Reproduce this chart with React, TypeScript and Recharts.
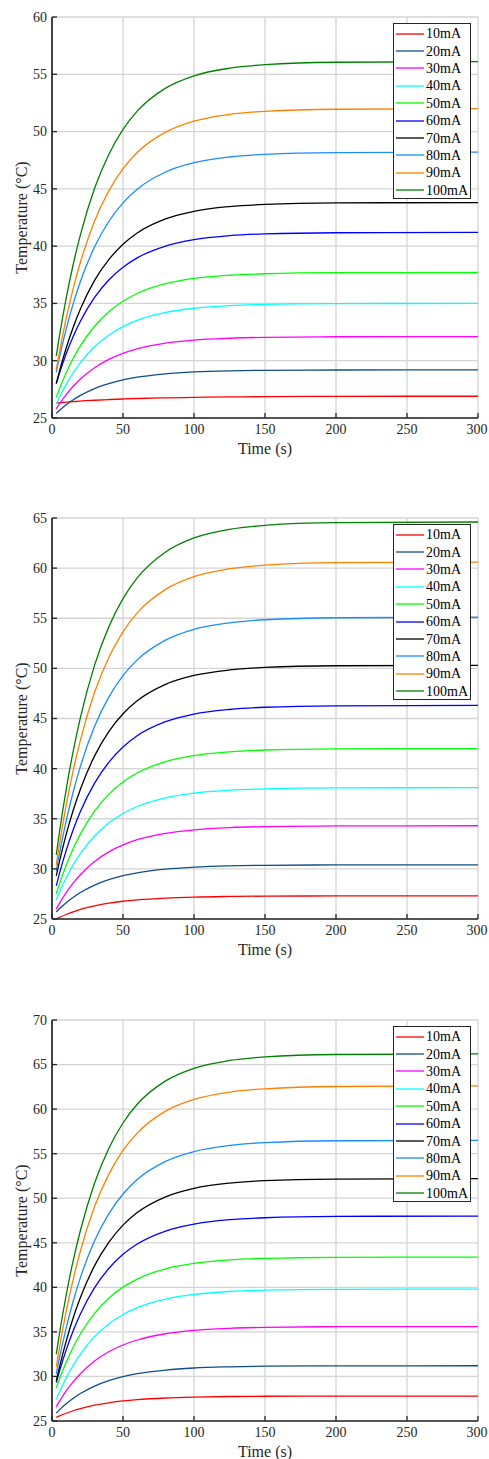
import React from "react";
import { LineChart, Line, XAxis, YAxis, CartesianGrid } from "recharts";

const times = [3, 5, 10, 15, 20, 30, 40, 50, 60, 80, 100, 125, 150, 200, 300];
const currents = ["10mA", "20mA", "30mA", "40mA", "50mA", "60mA", "70mA", "80mA", "90mA", "100mA"];
const colors = ["#FF0000", "#124C88", "#FF00FF", "#00FFFF", "#00FF00", "#0000FF", "#000000", "#1A8CFF", "#FF8000", "#008000"];
const xTicks = [0, 50, 100, 150, 200, 250, 300];

// panel 1 (top)
const p1_10 = [26.3, 26.32, 26.38, 26.43, 26.48, 26.55, 26.61, 26.66, 26.7, 26.76, 26.8, 26.84, 26.86, 26.89, 26.9];
const p1_20 = [25.4, 25.63, 26.15, 26.59, 26.97, 27.57, 28.0, 28.33, 28.56, 28.86, 29.02, 29.12, 29.16, 29.19, 29.2];
const p1_30 = [25.8, 26.18, 27.04, 27.77, 28.4, 29.39, 30.12, 30.65, 31.04, 31.53, 31.8, 31.96, 32.04, 32.09, 32.1];
const p1_40 = [26.2, 26.74, 27.93, 28.95, 29.83, 31.22, 32.23, 32.98, 33.52, 34.21, 34.58, 34.81, 34.91, 34.98, 35.0];
const p1_50 = [26.8, 27.46, 28.95, 30.21, 31.29, 33.01, 34.27, 35.19, 35.87, 36.72, 37.18, 37.46, 37.59, 37.68, 37.7];
const p1_60 = [28.0, 28.81, 30.6, 32.13, 33.44, 35.52, 37.04, 38.16, 38.98, 40.01, 40.57, 40.91, 41.07, 41.17, 41.2];
const p1_70 = [28.0, 28.96, 31.11, 32.95, 34.51, 37.01, 38.82, 40.17, 41.15, 42.38, 43.04, 43.45, 43.64, 43.77, 43.8];
const p1_80 = [29.0, 30.17, 32.78, 35.01, 36.91, 39.94, 42.15, 43.78, 44.97, 46.47, 47.28, 47.78, 48.01, 48.16, 48.2];
const p1_90 = [29.2, 30.59, 33.69, 36.34, 38.59, 42.2, 44.82, 46.76, 48.17, 49.95, 50.91, 51.5, 51.77, 51.95, 52.0];
const p1_100 = [30.4, 31.97, 35.46, 38.44, 40.99, 45.05, 48.0, 50.19, 51.78, 53.79, 54.87, 55.53, 55.84, 56.05, 56.1];

// panel 2 (middle)
const p2_10 = [25.0, 25.14, 25.45, 25.72, 25.95, 26.31, 26.58, 26.77, 26.91, 27.09, 27.19, 27.25, 27.28, 27.3, 27.3];
const p2_20 = [25.7, 25.99, 26.63, 27.17, 27.64, 28.38, 28.92, 29.32, 29.61, 29.98, 30.17, 30.3, 30.35, 30.39, 30.4];
const p2_30 = [26.0, 26.51, 27.64, 28.6, 29.42, 30.73, 31.69, 32.39, 32.91, 33.55, 33.9, 34.12, 34.22, 34.28, 34.3];
const p2_40 = [26.9, 27.58, 29.11, 30.41, 31.51, 33.28, 34.57, 35.52, 36.22, 37.09, 37.56, 37.85, 37.99, 38.08, 38.1];
const p2_50 = [27.5, 28.38, 30.36, 32.04, 33.47, 35.77, 37.43, 38.67, 39.56, 40.7, 41.3, 41.68, 41.86, 41.97, 42.0];
const p2_60 = [28.3, 29.4, 31.85, 33.93, 35.72, 38.56, 40.63, 42.16, 43.28, 44.68, 45.44, 45.9, 46.12, 46.26, 46.3];
const p2_70 = [29.3, 30.58, 33.44, 35.87, 37.95, 41.27, 43.69, 45.47, 46.77, 48.41, 49.29, 49.84, 50.09, 50.26, 50.3];
const p2_80 = [29.8, 31.34, 34.78, 37.72, 40.22, 44.22, 47.13, 49.28, 50.85, 52.82, 53.89, 54.54, 54.85, 55.05, 55.1];
const p2_90 = [30.4, 32.24, 36.35, 39.85, 42.84, 47.61, 51.09, 53.65, 55.53, 57.88, 59.15, 59.94, 60.3, 60.54, 60.6];
const p2_100 = [31.4, 33.43, 37.94, 41.79, 45.08, 50.32, 54.14, 56.96, 59.02, 61.61, 63.01, 63.87, 64.27, 64.53, 64.6];

// panel 3 (bottom)
const p3_10 = [25.4, 25.55, 25.87, 26.15, 26.39, 26.77, 27.04, 27.25, 27.4, 27.58, 27.68, 27.75, 27.78, 27.8, 27.8];
const p3_20 = [25.9, 26.22, 26.94, 27.56, 28.08, 28.92, 29.53, 29.98, 30.31, 30.72, 30.95, 31.08, 31.15, 31.19, 31.2];
const p3_30 = [26.6, 27.15, 28.37, 29.42, 30.31, 31.73, 32.77, 33.53, 34.09, 34.79, 35.17, 35.4, 35.51, 35.58, 35.6];
const p3_40 = [27.4, 28.16, 29.84, 31.28, 32.51, 34.47, 35.89, 36.95, 37.72, 38.68, 39.2, 39.53, 39.68, 39.78, 39.8];
const p3_50 = [28.7, 29.6, 31.6, 33.3, 34.76, 37.08, 38.77, 40.02, 40.93, 42.08, 42.69, 43.08, 43.25, 43.37, 43.4];
const p3_60 = [29.3, 30.44, 32.98, 35.15, 37.0, 39.96, 42.11, 43.7, 44.86, 46.32, 47.1, 47.59, 47.81, 47.96, 48.0];
const p3_70 = [29.5, 30.88, 33.97, 36.61, 38.85, 42.44, 45.05, 46.98, 48.39, 50.16, 51.11, 51.7, 51.97, 52.15, 52.2];
const p3_80 = [30.3, 31.9, 35.46, 38.5, 41.09, 45.23, 48.25, 50.47, 52.1, 54.14, 55.24, 55.92, 56.24, 56.45, 56.5];
const p3_90 = [31.1, 33.02, 37.31, 40.96, 44.08, 49.06, 52.68, 55.36, 57.31, 59.77, 61.08, 61.91, 62.28, 62.54, 62.6];
const p3_100 = [32.5, 34.56, 39.14, 43.05, 46.38, 51.71, 55.59, 58.44, 60.54, 63.17, 64.58, 65.46, 65.86, 66.13, 66.2];

const panels = [
  { top: 0, yMax: 60, series: [p1_10, p1_20, p1_30, p1_40, p1_50, p1_60, p1_70, p1_80, p1_90, p1_100] },
  { top: 501, yMax: 65, series: [p2_10, p2_20, p2_30, p2_40, p2_50, p2_60, p2_70, p2_80, p2_90, p2_100] },
  { top: 1003, yMax: 70, series: [p3_10, p3_20, p3_30, p3_40, p3_50, p3_60, p3_70, p3_80, p3_90, p3_100] },
];

const FONT = "'Liberation Serif', 'Times New Roman', serif";
const AXIS = "#262626";
const GRID = "#d4d4d4";

const makeTicks = (max: number) => {
  const t: number[] = [];
  for (let v = 25; v <= max; v += 5) t.push(v);
  return t;
};

// serif tick labels (x below the axis, y to the left)
const XTick = (props: any) => (
  <text x={props.x} y={props.y} dy="0.72em" textAnchor="middle" fill={AXIS} fontSize={14} fontFamily={FONT}>
    {props.payload.value}
  </text>
);
const YTick = (props: any) => (
  <text x={props.x} y={props.y} dy="0.35em" textAnchor="end" fill={AXIS} fontSize={14} fontFamily={FONT}>
    {props.payload.value}
  </text>
);

const LegendBox = () => (
  <div
    style={{
      position: "absolute",
      left: 393,
      top: 23,
      width: 78,
      height: 176,
      boxSizing: "border-box",
      border: `1.4px solid ${AXIS}`,
      background: "#fff",
      paddingTop: 1,
      fontFamily: FONT,
      fontSize: 14,
      color: "#000",
    }}
  >
    {currents.map((c, i) => (
      <div key={c} style={{ display: "flex", alignItems: "center", height: 17.4 }}>
        <svg width={30} height={4} style={{ marginLeft: 1, marginRight: 1 }}>
          <line x1={1} x2={29} y1={2} y2={2} stroke={colors[i]} strokeWidth={1.3} />
        </svg>
        <span style={{ lineHeight: "17px" }}>{c}</span>
      </div>
    ))}
  </div>
);

const Panel = ({ top, yMax, series }: { top: number; yMax: number; series: number[][] }) => {
  const data = times.map((t, i) => {
    const row: Record<string, number> = { t };
    series.forEach((s, k) => (row[`s${k}`] = s[i]));
    return row;
  });
  const yTicks = makeTicks(yMax);

  return (
    <div style={{ position: "absolute", left: 0, top, width: 489, height: 460, fontFamily: FONT }}>
      <LineChart width={489} height={460} data={data} margin={{ top: 17, right: 11, bottom: 12, left: 0 }}>
        <CartesianGrid xAxisId="b" yAxisId="l" stroke={GRID} strokeWidth={1.3} />
        <XAxis
          xAxisId="b"
          dataKey="t"
          type="number"
          domain={[0, 300]}
          ticks={xTicks}
          height={30}
          tickSize={-5}
          tickMargin={11}
          tick={<XTick />}
          axisLine={{ stroke: AXIS, strokeWidth: 1.7 }}
          tickLine={{ stroke: AXIS, strokeWidth: 1.3 }}
          label={{ value: "Time (s)", position: "center", dy: 15, fill: AXIS, fontSize: 16, fontFamily: FONT }}
        />
        <XAxis
          xAxisId="top"
          orientation="top"
          dataKey="t"
          type="number"
          domain={[0, 300]}
          ticks={xTicks}
          height={0}
          tickSize={-5}
          tick={false}
          axisLine={{ stroke: AXIS, strokeWidth: 1.7 }}
          tickLine={{ stroke: AXIS, strokeWidth: 1.3 }}
        />
        <YAxis
          yAxisId="l"
          type="number"
          domain={[25, yMax]}
          ticks={yTicks}
          width={52}
          tickSize={-5}
          tickMargin={10}
          tick={<YTick />}
          axisLine={{ stroke: AXIS, strokeWidth: 1.7 }}
          tickLine={{ stroke: AXIS, strokeWidth: 1.3 }}
          label={{ value: "Temperature (°C)", angle: -90, position: "center", dx: -5, fill: AXIS, fontSize: 16, fontFamily: FONT }}
        />
        <YAxis
          yAxisId="r"
          orientation="right"
          type="number"
          domain={[25, yMax]}
          ticks={yTicks}
          width={0}
          tickSize={-5}
          tick={false}
          axisLine={{ stroke: AXIS, strokeWidth: 1.7 }}
          tickLine={{ stroke: AXIS, strokeWidth: 1.3 }}
        />
        {currents.map((c, k) => (
          <Line
            key={c}
            xAxisId="b"
            yAxisId="l"
            dataKey={`s${k}`}
            name={c}
            type="monotone"
            stroke={colors[k]}
            strokeWidth={1.3}
            dot={false}
            isAnimationActive={false}
          />
        ))}
      </LineChart>
      <LegendBox />
    </div>
  );
};

export default function App() {
  return (
    <div style={{ position: "absolute", left: 0, top: 0, width: 489, height: 1459, background: "#fff" }}>
      {panels.map((p) => (
        <Panel key={p.top} top={p.top} yMax={p.yMax} series={p.series} />
      ))}
    </div>
  );
}
